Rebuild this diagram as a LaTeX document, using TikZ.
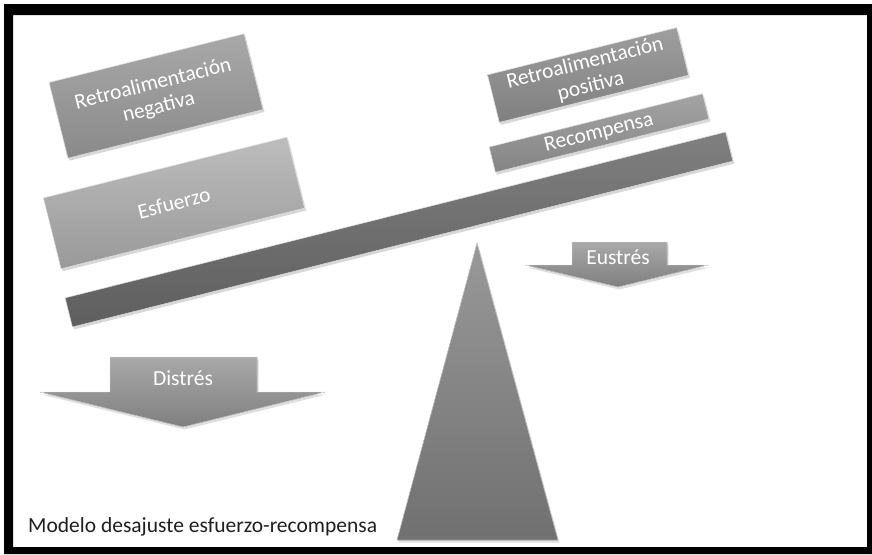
\documentclass[tikz,border=0pt]{standalone}
\usepackage{fontspec}
\setmainfont{Carlito}
\usetikzlibrary{shadows}
\begin{document}
\begin{tikzpicture}[x=1pt,y=-1pt,
  slab/.style={rotate=14, inner sep=0pt, text=white, align=center,
    font=\fontsize{21.5}{24}\selectfont, draw=white!75!gray, line width=0.5pt,
    drop shadow={shadow xshift=1.5pt, shadow yshift=-2.5pt, opacity=.3}},
  flat/.style={draw=white!80!gray, line width=0.4pt,
    drop shadow={shadow xshift=1.5pt, shadow yshift=-2.5pt, opacity=.25}},
  lbl/.style={text=white, font=\fontsize{21.5}{24}\selectfont, inner sep=0pt}
]
\definecolor{nt}{gray}{0.66}\definecolor{nb}{gray}{0.54}
\definecolor{et}{gray}{0.74}\definecolor{eb}{gray}{0.60}
\definecolor{pt}{gray}{0.62}\definecolor{pb}{gray}{0.50}
\definecolor{rt}{gray}{0.64}\definecolor{rb}{gray}{0.52}
\definecolor{bt}{gray}{0.50}\definecolor{bb}{gray}{0.37}
\definecolor{tt}{gray}{0.60}\definecolor{tb}{gray}{0.44}
\definecolor{at}{gray}{0.66}\definecolor{ab}{gray}{0.50}
\useasboundingbox (0,0) rectangle (872,554);
\fill[white] (0,0) rectangle (872,554);
\fill[black, even odd rule] (4,4) rectangle (872,554) (13,15) rectangle (867,547);
% fulcrum
\fill[flat, top color=tt, bottom color=tb] (477,243) -- (558,540) -- (397,540) -- cycle;
% beam
\node[slab, rotate=0.1, minimum width=681pt, minimum height=30pt, top color=bt, bottom color=bb] (beam) at (399,229.5) {};
% boxes
\node[slab, minimum width=201pt, minimum height=78pt, top color=nt, bottom color=nb] (neg) at (156,96) {Retroalimentación\\negativa};
\node[slab, minimum width=251pt, minimum height=73pt, top color=et, bottom color=eb] (esf) at (174,203) {Esfuerzo};
\node[slab, minimum width=195pt, minimum height=49pt, top color=pt, bottom color=pb] (pos) at (588,75) {Retroalimentación\\positiva};
\node[slab, minimum width=220pt, minimum height=26pt, top color=rt, bottom color=rb] (rec) at (599,133) {Recompensa};
% arrows
\fill[flat, top color=at, bottom color=ab] (110,357) -- (257,357) -- (257,392) -- (325,392) -- (183,427) -- (40,392) -- (110,392) -- cycle;
\node[lbl] (dis) at (183,378) {Distrés};
\fill[flat, top color=at, bottom color=ab] (572,242) -- (667,242) -- (667,265) -- (708,265) -- (618,287) -- (525,265) -- (572,265) -- cycle;
\node[lbl] (eus) at (618,257) {Eustrés};
% caption
\node[anchor=base west, inner sep=0pt, text=black!88, font=\fontsize{21.5}{24}\selectfont] (cap) at (28,532) {Modelo desajuste esfuerzo-recompensa};
\end{tikzpicture}
\end{document}
